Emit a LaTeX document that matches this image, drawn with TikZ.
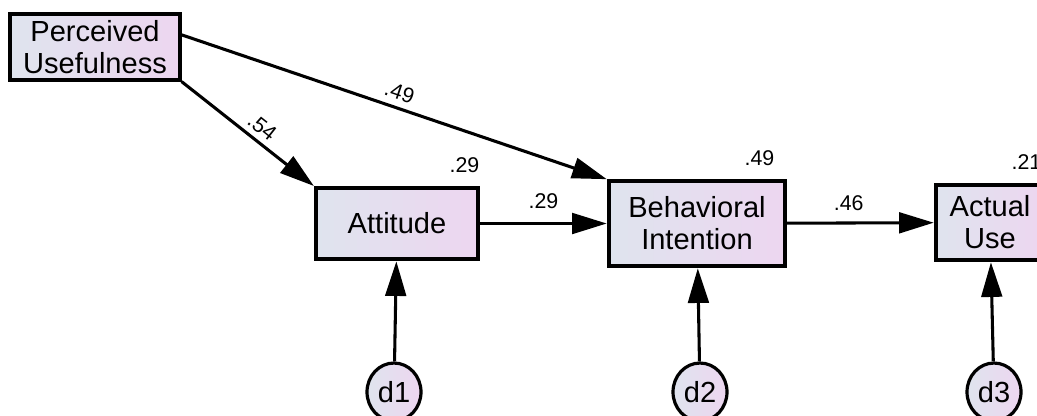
\documentclass[tikz,border=0pt]{standalone}
\usepackage{fontspec}
\setmainfont{Liberation Sans}
\usetikzlibrary{positioning,arrows.meta,shapes.geometric}

\definecolor{shadeL}{HTML}{DFE4EE}
\definecolor{shadeR}{HTML}{EDD6F0}

\tikzset{
  varbox/.style={draw=black, line width=2.4pt, left color=shadeL, right color=shadeR,
    inner sep=0pt, align=center, font=\fontsize{21.8}{24}\selectfont},
  errnode/.style={ellipse, draw=black, line width=2.4pt, left color=shadeL, right color=shadeR,
    inner sep=0pt, minimum width=40.5pt, minimum height=43.5pt, font=\fontsize{21.8}{24}\selectfont},
  regpath/.style={-{Triangle[length=26pt,width=15.5pt]}, line width=2.3pt, shorten >=0.5pt},
  coef/.style={font=\fontsize{16}{18}\selectfont, inner sep=0pt},
}

\begin{document}
\begin{tikzpicture}[x=0.75pt, y=-0.75pt]
    \clip (0,0) rectangle (1037,415);
    % observed variables
    \node[varbox, minimum width=127.5pt, minimum height=49.5pt] (pu) at (95,47) {Perceived\\Usefulness};
    \node[varbox, minimum width=121.5pt, minimum height=53.25pt] (att) at (397,223.5) {Attitude};
    \node[varbox, minimum width=132pt, minimum height=63.75pt] (bi) at (697,223.5) {Behavioral\\Intention};
    \node[varbox, minimum width=81pt, minimum height=56.25pt] (au) at (990,222.5) {Actual\\Use};
    % error terms
    \node[errnode] (d1) at (394,392) {d1};
    \node[errnode] (d2) at (700,392) {d2};
    \node[errnode] (d3) at (994,392) {d3};
    % squared multiple correlations
    \node[coef, above left=9.75pt and 0pt of att.north east] (r2att) {.29};
    \node[coef, above left=10pt and 9pt of bi.north east] (r2bi) {.49};
    \node[coef, above left=10pt and 3pt of au.north east] (r2au) {.21};
    % paths
    \draw[regpath] (pu.south east) -- node[coef, sloped, above=4pt, pos=0.54] {.54} (att.north west);
    \draw[regpath] (pu.8) -- node[coef, sloped, above=5pt, pos=0.5] {.49} (bi.north west);
    \draw[regpath] (att) -- node[coef, above=10pt] {.29} (bi);
    \draw[regpath] (bi) -- node[coef, above=8pt, pos=0.42] {.46} (au);
    \draw[regpath] (d1) -- (att);
    \draw[regpath] (d2) -- (bi);
    \draw[regpath] (d3) -- (au);
  \end{tikzpicture}
\end{document}
